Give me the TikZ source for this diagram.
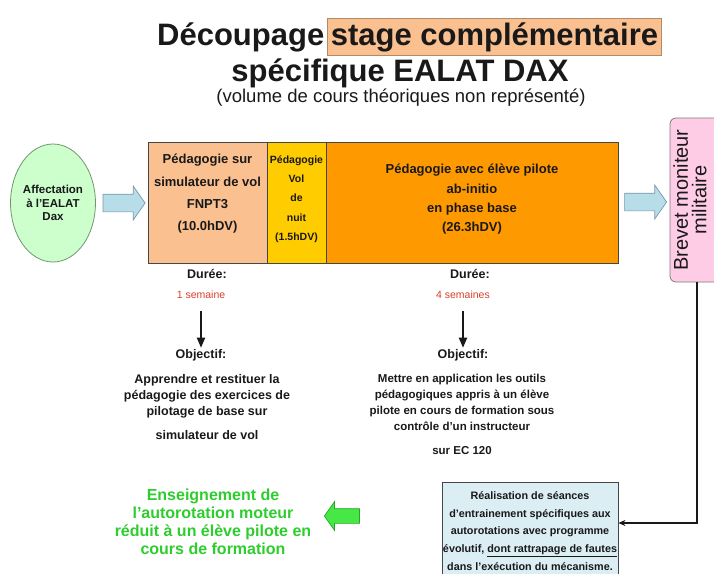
\documentclass[tikz,border=0pt]{standalone}
\usepackage{fontspec}
\setmainfont{Liberation Sans}
\usetikzlibrary{shapes.geometric,shapes.arrows,arrows.meta}
\definecolor{peach}{RGB}{250,192,144}
\definecolor{hlb}{RGB}{176,138,106}
\definecolor{gold}{RGB}{255,204,0}
\definecolor{orangeb}{RGB}{255,153,0}
\definecolor{mint}{RGB}{204,255,204}
\definecolor{mintb}{RGB}{110,150,110}
\definecolor{skyf}{RGB}{183,221,232}
\definecolor{skyb}{RGB}{120,150,170}
\definecolor{pinkf}{RGB}{255,204,230}
\definecolor{brb}{RGB}{130,120,125}
\definecolor{pale}{RGB}{219,238,244}
\definecolor{redt}{RGB}{214,64,44}
\definecolor{greent}{RGB}{45,205,45}
\definecolor{greenf}{RGB}{70,232,70}
\definecolor{greenb}{RGB}{40,165,40}
\definecolor{edge}{RGB}{70,70,70}
\definecolor{ink}{RGB}{25,25,25}
\begin{document}
\begin{tikzpicture}[x=1pt,y=-1pt,
  txt/.style={inner sep=0pt,align=center,text=ink},
  seg/.style={draw=edge,line width=0.8pt,minimum height=121pt,inner sep=0pt},
  blk/.style={single arrow,draw=skyb,fill=skyf,line width=0.7pt,inner xsep=0pt,inner ysep=8.5pt,
    single arrow head extend=8pt,single arrow tip angle=110,minimum height=42pt},
  down/.style={line width=1.8pt,draw=ink,-{Triangle[width=8pt,length=10pt]}},
  titlef/.style={font=\fontsize{31}{35}\selectfont\bfseries},
  boxf/.style={font=\fontsize{13}{22.3}\selectfont\bfseries},
  labf/.style={font=\fontsize{12.5}{15}\selectfont\bfseries},
  weekf/.style={font=\fontsize{10.5}{12}\selectfont,text=redt},
]
\useasboundingbox (0,0) rectangle (714,573);

% title
\node[txt,titlef,anchor=base west] (t1) at (157,45) {Découpage};
\node[titlef,anchor=base west,inner xsep=3pt,inner ysep=4pt,fill=peach,draw=hlb,line width=0.6pt,text=ink]
  (t2) at ([xshift=3pt]t1.base east) {stage complémentaire};
\node[txt,titlef,anchor=base] (t3) at (400,81) {spécifique EALAT DAX};
\node[txt,anchor=base,font=\fontsize{18.5}{22}\selectfont] (t4) at (401,102)
  {(volume de cours théoriques non représenté)};

% start ellipse
\node[ellipse,draw=mintb,fill=mint,line width=0.8pt,minimum width=82pt,minimum height=118pt,
  inner sep=0pt,align=center,text=ink,font=\fontsize{11.5}{13.5}\selectfont\bfseries]
  (aff) at (53,203) {Affectation\\à l'EALAT\\Dax};

\node[blk] (a1) at (121,203) {};

% main bar
\node[seg,fill=peach,minimum width=119pt] (peachb) at (207.5,202.5) {};
\node[seg,fill=gold,minimum width=59pt] (yelb) at (296.5,202.5) {};
\node[seg,fill=orangeb,minimum width=292pt] (orab) at (472,202.5) {};

\node[txt,boxf] (ptx) at (207.5,194) {Pédagogie sur\\simulateur de vol\\FNPT3\\(10.0hDV)};
\node[txt,font=\fontsize{10.5}{19.3}\selectfont\bfseries] (ytx) at (296.5,199)
  {Pédagogie\\Vol\\de\\nuit\\(1.5hDV)};
\node[txt,font=\fontsize{13}{19.3}\selectfont\bfseries] (otx) at (472,199.5)
  {Pédagogie avec élève pilote\\ab-initio\\en phase base\\(26.3hDV)};

\node[blk] (a2) at (642.5,202) {};

% brevet
\node[draw=brb,fill=pinkf,rounded corners=6pt,line width=0.8pt,minimum width=54pt,
  minimum height=164pt,inner sep=0pt] (brev) at (697,200) {};
\node[txt,rotate=90,font=\fontsize{20}{18.5}\selectfont] (brevt) at (690,200)
  {Brevet moniteur\\militaire};

% left column
\node[txt,labf,anchor=base] (dur1) at (207,278) {Durée:};
\node[txt,weekf,anchor=base] (sem1) at (201,298) {1 semaine};
\node[txt,labf,anchor=base] (obj1) at (201,358) {Objectif:};
\draw[down,shorten <=13pt,shorten >=1pt] (sem1.south) -- (sem1.south |- obj1.north);
\node[txt,anchor=north,font=\fontsize{12.5}{16}\selectfont\bfseries] (p1) at (207,374)
  {Apprendre et restituer la\\pédagogie des exercices de\\pilotage de base sur\\[8pt]simulateur de vol};

% right column
\node[txt,labf,anchor=base] (dur2) at (470,278) {Durée:};
\node[txt,weekf,anchor=base] (sem2) at (463,298) {4 semaines};
\node[txt,labf,anchor=base] (obj2) at (463,358) {Objectif:};
\draw[down,shorten <=13pt,shorten >=1pt] (sem2.south) -- (sem2.south |- obj2.north);
\node[txt,anchor=north,font=\fontsize{11.5}{16}\selectfont\bfseries] (p2) at (462,373.6)
  {Mettre en application les outils\\pédagogiques appris à un élève\\pilote en cours de formation sous\\contrôle d'un instructeur\\[8pt]sur EC 120};

% bottom box
\node[draw=edge,fill=pale,line width=0.8pt,minimum width=176pt,minimum height=92pt,inner sep=0pt]
  (real) at (530,528) {};
\node[txt,anchor=north,font=\fontsize{10.8}{17.9}\selectfont\bfseries] (realt) at (530,491)
  {Réalisation de séances\\d'entrainement spécifiques aux\\autorotations avec programme\\évolutif, \underline{dont rattrapage de fautes}\\dans l'exécution du mécanisme.};

\draw[line width=1.2pt,draw=ink,-{Stealth[length=7pt,width=6pt]}] (brev.south) |- ([yshift=5pt]real.east);

% green arrow and text
\node[single arrow,draw=greenb,fill=greenf,line width=0.7pt,inner xsep=0pt,inner ysep=7pt,
  single arrow head extend=7pt,single arrow tip angle=110,minimum height=35pt,rotate=180]
  (ga) at (344.5,516) {};
\node[txt,anchor=north,text=greent,font=\fontsize{16}{18}\selectfont\bfseries] (gt) at (213,489)
  {Enseignement de\\l'autorotation moteur\\réduit à un élève pilote en\\cours de formation};
\end{tikzpicture}
\end{document}
